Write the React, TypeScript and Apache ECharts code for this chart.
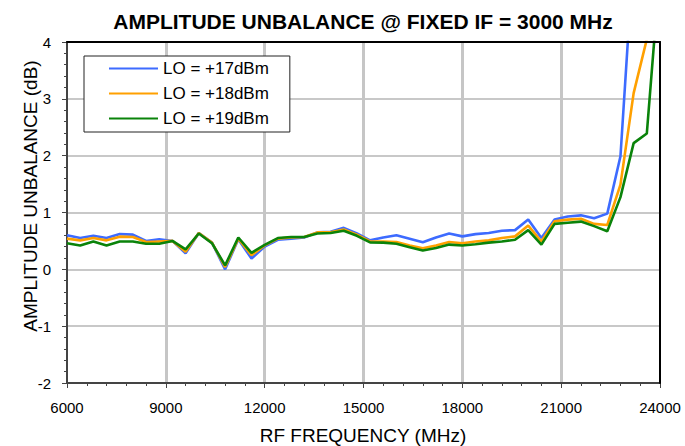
import React, { useEffect, useRef } from "react";
import * as echarts from "echarts";

const freqs = [6000, 6400, 6800, 7200, 7600, 8000, 8400, 8800, 9200, 9600, 10000, 10400, 10800, 11200, 11600, 12000, 12400, 12800, 13200, 13600, 14000, 14400, 14800, 15200, 15600, 16000, 16400, 16800, 17200, 17600, 18000, 18400, 18800, 19200, 19600, 20000, 20400, 20800, 21200, 21600, 22000, 22400, 22800, 23200, 23600, 24000];

const lo17 = [0.60, 0.55, 0.59, 0.55, 0.62, 0.61, 0.50, 0.53, 0.50, 0.28, 0.64, 0.47, 0.00, 0.53, 0.19, 0.40, 0.52, 0.54, 0.56, 0.65, 0.66, 0.73, 0.63, 0.51, 0.56, 0.60, 0.54, 0.475, 0.56, 0.63, 0.58, 0.62, 0.64, 0.68, 0.69, 0.875, 0.55, 0.875, 0.93, 0.95, 0.90, 0.98, 1.99, 5.6, 9.0, 12.0];
const lo18 = [0.54, 0.51, 0.55, 0.51, 0.575, 0.57, 0.48, 0.49, 0.50, 0.31, 0.64, 0.47, 0.04, 0.54, 0.25, 0.42, 0.54, 0.56, 0.57, 0.65, 0.65, 0.70, 0.61, 0.49, 0.49, 0.48, 0.42, 0.37, 0.42, 0.48, 0.46, 0.49, 0.51, 0.55, 0.58, 0.77, 0.49, 0.845, 0.875, 0.89, 0.80, 0.78, 1.49, 3.10, 4.05, 6.0];
const lo19 = [0.46, 0.42, 0.49, 0.42, 0.49, 0.49, 0.45, 0.45, 0.50, 0.35, 0.63, 0.46, 0.07, 0.56, 0.29, 0.43, 0.55, 0.57, 0.57, 0.63, 0.64, 0.68, 0.59, 0.475, 0.47, 0.45, 0.39, 0.33, 0.375, 0.435, 0.42, 0.44, 0.47, 0.49, 0.52, 0.69, 0.435, 0.80, 0.82, 0.84, 0.76, 0.67, 1.27, 2.22, 2.39, 5.3];

const seriesNames = ["LO = +17dBm", "LO = +18dBm", "LO = +19dBm"];
const seriesColors = ["#3D6BFF", "#FFA000", "#0A830A"];

const FONT = '"Liberation Sans", Arial, Helvetica, sans-serif';

export default function App() {
  const ref = useRef<HTMLDivElement>(null);
  useEffect(() => {
    if (!ref.current) return;
    const chart = echarts.init(ref.current, null, { renderer: "svg" });
    const all = [lo17, lo18, lo19];
    const series = all.map((vals, k) => ({
      name: seriesNames[k],
      type: "line",
      data: freqs.map((f, i) => [f, vals[i]]),
      symbol: "none",
      showSymbol: false,
      clip: true,
      lineStyle: { color: seriesColors[k], width: 2.6 },
      itemStyle: { color: seriesColors[k] },
      z: 3 + k,
    }));
    chart.setOption({
      animation: false,
      backgroundColor: "#fff",
      grid: { left: 67, right: 25, top: 42, bottom: 63, containLabel: false, outerBoundsMode: "none" },
      legend: {
        orient: "vertical",
        left: 84,
        top: 56,
        data: seriesNames,
        backgroundColor: "#fff",
        borderColor: "#222",
        borderWidth: 1,
        borderRadius: 0,
        padding: [4, 21, 5, 24],
        itemWidth: 49,
        itemHeight: 16,
        itemGap: 8,
        itemStyle: { opacity: 0 },
        textStyle: { fontSize: 17, fontFamily: FONT, color: "#000" },
        selectedMode: false,
      },
      xAxis: [
        {
          type: "value",
          min: 6000,
          max: 24000,
          interval: 3000,
          axisLine: { show: true, onZero: false, lineStyle: { color: "#444", width: 2 } },
          axisTick: { show: true, length: 5, lineStyle: { color: "#444", width: 1 } },
          minorTick: { show: true, splitNumber: 5, length: 3, lineStyle: { color: "#444", width: 1 } },
          splitLine: { show: true, showMinLine: false, showMaxLine: false, lineStyle: { color: "#c6c6c6", width: 3 } },
          axisLabel: {
            fontSize: 15,
            fontFamily: FONT,
            color: "#000",
            margin: 17,
            showMinLabel: true,
            showMaxLabel: true,
            hideOverlap: false,
            formatter: (v: number) => String(v),
          },
        },
        {
          type: "value",
          position: "top",
          min: 6000,
          max: 24000,
          interval: 3000,
          z: 10,
          axisLine: { show: true, onZero: false, lineStyle: { color: "#000", width: 2 } },
          axisTick: { show: false },
          axisLabel: { show: false },
          splitLine: { show: false },
        },
      ],
      yAxis: [
        {
          type: "value",
          min: -2,
          max: 4,
          interval: 1,
          axisLine: { show: true, onZero: false, lineStyle: { color: "#444", width: 2 } },
          axisTick: { show: true, length: 5, lineStyle: { color: "#444", width: 1 } },
          minorTick: { show: true, splitNumber: 5, length: 3, lineStyle: { color: "#444", width: 1 } },
          splitLine: { show: true, showMinLine: false, showMaxLine: false, lineStyle: { color: "#c8c8c8", width: 2 } },
          axisLabel: {
            fontSize: 15,
            fontFamily: FONT,
            color: "#000",
            margin: 16,
            showMinLabel: true,
            showMaxLabel: true,
            formatter: (v: number) => String(v),
          },
        },
        {
          type: "value",
          position: "right",
          min: -2,
          max: 4,
          interval: 1,
          z: 10,
          axisLine: { show: true, onZero: false, lineStyle: { color: "#000", width: 2 } },
          axisTick: { show: false },
          axisLabel: { show: false },
          splitLine: { show: false },
        },
      ],
      graphic: [
        {
          type: "text",
          x: 363,
          y: 21,
          style: {
            text: "AMPLITUDE UNBALANCE @ FIXED IF = 3000 MHz",
            fontSize: 21,
            fontWeight: "bold",
            fontFamily: FONT,
            fill: "#000",
            align: "center",
            textAlign: "center",
            verticalAlign: "middle",
            textVerticalAlign: "middle",
          },
        },
        {
          type: "text",
          x: 30,
          y: 196,
          rotation: Math.PI / 2,
          style: {
            text: "AMPLITUDE UNBALANCE (dB)",
            fontSize: 19,
            fontFamily: FONT,
            fill: "#000",
            align: "center",
            textAlign: "center",
            verticalAlign: "middle",
            textVerticalAlign: "middle",
          },
        },
        {
          type: "text",
          x: 363,
          y: 435,
          style: {
            text: "RF FREQUENCY (MHz)",
            fontSize: 19,
            fontFamily: FONT,
            fill: "#000",
            align: "center",
            textAlign: "center",
            verticalAlign: "middle",
            textVerticalAlign: "middle",
          },
        },
      ],
      series,
    });
    return () => chart.dispose();
  }, []);
  return (
    <div
      ref={ref}
      style={{ position: "fixed", left: 0, top: 0, width: 685, height: 446 }}
    />
  );
}
